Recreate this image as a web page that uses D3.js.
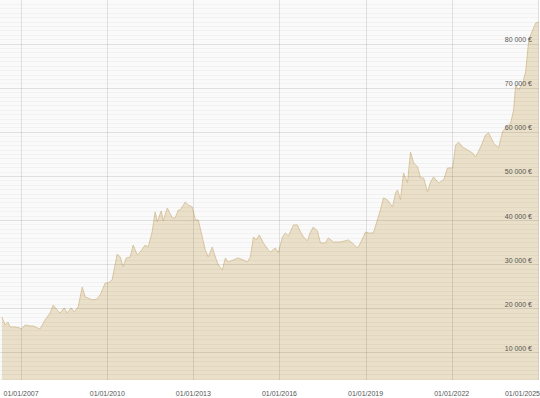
<!DOCTYPE html>
<html>
<head>
<meta charset="utf-8">
<script src="https://cdn.jsdelivr.net/npm/d3@7"></script>
<style>
  body { margin: 0; background: #fff; }
  svg { display: block; font-family: "Liberation Sans", Arial, sans-serif; }
</style>
</head>
<body>
<svg id="chart" width="540" height="398"></svg>
<script>
// price series
const dates = [
  "2006-05-01","2006-06-10","2006-07-17","2006-08-13","2006-10-16","2006-12-18","2007-01-01","2007-02-21",
  "2007-04-24","2007-06-01","2007-08-29","2007-11-02","2008-01-05","2008-02-13","2008-04-03","2008-05-10",
  "2008-07-01","2008-08-09","2008-09-29","2008-11-07","2008-12-27","2009-02-17","2009-03-25","2009-05-02",
  "2009-06-22","2009-08-25","2009-10-03","2009-12-06","2010-01-13","2010-03-04","2010-05-07","2010-06-14",
  "2010-07-22","2010-08-30","2010-10-20","2010-11-27","2011-01-18","2011-02-25","2011-04-28","2011-06-06",
  "2011-07-26","2011-09-03","2011-09-29","2011-11-19","2011-12-14","2012-02-04","2012-04-07","2012-05-15",
  "2012-06-23","2012-07-18","2012-09-20","2012-10-28","2012-12-18","2013-01-26","2013-03-04","2013-04-24",
  "2013-06-01","2013-07-09","2013-08-30","2013-10-07","2013-11-15","2014-01-05","2014-02-12","2014-03-21",
  "2014-05-23","2014-07-26","2014-09-29","2014-11-19","2014-12-27","2015-02-04","2015-03-12","2015-04-20",
  "2015-06-10","2015-08-13","2015-09-08","2015-11-10","2015-12-18","2016-02-08","2016-03-16","2016-04-24",
  "2016-06-27","2016-08-17","2016-09-25","2016-11-02","2016-12-23","2017-01-30","2017-03-08","2017-04-28",
  "2017-06-06","2017-08-08","2017-09-16","2017-11-19","2018-02-16","2018-05-27","2018-07-30","2018-09-20",
  "2018-10-28","2019-01-01","2019-02-08","2019-04-11","2019-06-01","2019-07-09","2019-08-17","2019-10-07",
  "2019-12-10","2020-01-18","2020-02-12","2020-03-20","2020-04-28","2020-06-18","2020-07-26","2020-09-04",
  "2020-10-24","2020-12-01","2021-01-09","2021-02-28","2021-04-07","2021-05-15","2021-07-18","2021-09-20",
  "2021-11-10","2022-01-13","2022-02-21","2022-03-29","2022-05-19","2022-07-22","2022-09-24","2022-11-02",
  "2023-01-05","2023-03-08","2023-04-16","2023-06-18","2023-08-21","2023-10-11","2023-11-19","2024-01-22",
  "2024-02-28","2024-03-25","2024-05-02","2024-06-22","2024-07-30","2024-09-08","2024-10-28","2024-12-06",
  "2025-01-13"
];
const prices = [
  18030,16210,16890,15760,15760,15530,15310,16210,
  15990,15990,15310,17350,18930,20750,19610,18930,
  20070,18930,20070,19160,20300,24830,22560,22340,
  21880,22110,23020,25740,25740,26420,32310,31630,
  29370,31410,31630,34350,32090,32770,34350,33900,
  37300,41840,39570,42070,39800,42750,40480,40480,
  42290,42290,44100,43430,42970,40030,40030,36170,
  33220,31630,33900,31630,29820,28690,31410,30500,
  30950,31410,30950,30500,31630,36170,35490,36620,
  34810,33220,32770,33670,32540,36170,37080,36390,
  38890,38890,37300,36170,35260,37300,38440,37530,
  34810,34810,35940,35030,35030,35490,34580,33670,
  34810,37300,37080,37080,40030,42290,45010,44560,
  42970,46150,46830,44560,50680,48410,55440,52950,
  52040,49550,49550,46380,48630,49780,48410,49100,
  51810,51810,57020,57700,56570,55890,55210,54310,
  56570,59300,59750,57480,56350,60090,60890,62020,
  64970,70640,69500,71090,73590,80840,83110,84700,
  84930
];
const yTicks = [10000, 20000, 30000, 40000, 50000, 60000, 70000, 80000];
const xTickDates = ["2007-01-01","2010-01-01","2013-01-01","2016-01-01","2019-01-01","2022-01-01","2025-01-01"];

const parse = d3.timeParse("%Y-%m-%d");
const series = dates.map((d, i) => ({ date: parse(d), value: prices[i] }));

const width = 540, plotBottom = 380, plotRight = 539;
const svg = d3.select("#chart");

const x = d3.scaleTime()
    .domain([parse("2006-04-07"), parse("2025-01-16")])
    .range([0, plotRight]);
const y = d3.scaleLinear()
    .domain([0, 89900])
    .range([396.5, 0]);

svg.append("defs").append("clipPath").attr("id", "plot")
    .append("rect").attr("x", 0).attr("y", 0).attr("width", plotRight).attr("height", plotBottom);

const plot = svg.append("g").attr("clip-path", "url(#plot)");

plot.append("rect")
    .attr("width", plotRight).attr("height", plotBottom)
    .attr("fill", "#fafafa");

// area under the curve
const area = d3.area()
    .x(d => x(d.date))
    .y0(plotBottom)
    .y1(d => y(d.value));
const line = d3.line()
    .x(d => x(d.date))
    .y(d => y(d.value));

plot.append("path").datum(series)
    .attr("d", area)
    .attr("fill", "#eadfc8");
plot.append("path").datum(series)
    .attr("d", line)
    .attr("fill", "none")
    .attr("stroke", "#d9c6a0")
    .attr("stroke-width", 1);

// light stripes every 1000
plot.append("g").selectAll("line")
    .data(d3.range(4000, 90000, 1000).filter(v => v % 10000 !== 0))
    .join("line")
    .attr("x1", 0).attr("x2", plotRight)
    .attr("y1", d => Math.round(y(d)) + 0.5).attr("y2", d => Math.round(y(d)) + 0.5)
    .attr("stroke", "rgba(0,0,0,0.03)");

// major grid
plot.append("g").selectAll("line")
    .data(yTicks)
    .join("line")
    .attr("x1", 0).attr("x2", plotRight)
    .attr("y1", d => Math.round(y(d)) + 0.5).attr("y2", d => Math.round(y(d)) + 0.5)
    .attr("stroke", "rgba(0,0,0,0.1)");

plot.append("g").selectAll("line")
    .data(xTickDates.map(parse))
    .join("line")
    .attr("x1", d => Math.round(x(d)) + 0.5).attr("x2", d => Math.round(x(d)) + 0.5)
    .attr("y1", 0).attr("y2", plotBottom)
    .attr("stroke", "rgba(0,0,0,0.1)");

// y labels inside the plot, right side
const fmt = v => d3.format(",")(v).replace(/,/g, " ") + " €";
svg.append("g").selectAll("text")
    .data(yTicks)
    .join("text")
    .attr("x", 532)
    .attr("y", d => y(d) - 1.5)
    .attr("text-anchor", "end")
    .attr("font-size", 7)
    .attr("fill", "#555")
    .text(fmt);

// x labels
const fmtDate = d3.timeFormat("%d/%m/%Y");
svg.append("g").selectAll("text")
    .data(xTickDates.map(parse))
    .join("text")
    .attr("x", (d, i, n) => i === n.length - 1 ? width : x(d))
    .attr("y", 395.5)
    .attr("text-anchor", (d, i, n) => i === n.length - 1 ? "end" : "middle")
    .attr("font-size", 7)
    .attr("fill", "#555")
    .text(fmtDate);
</script>
</body>
</html>
